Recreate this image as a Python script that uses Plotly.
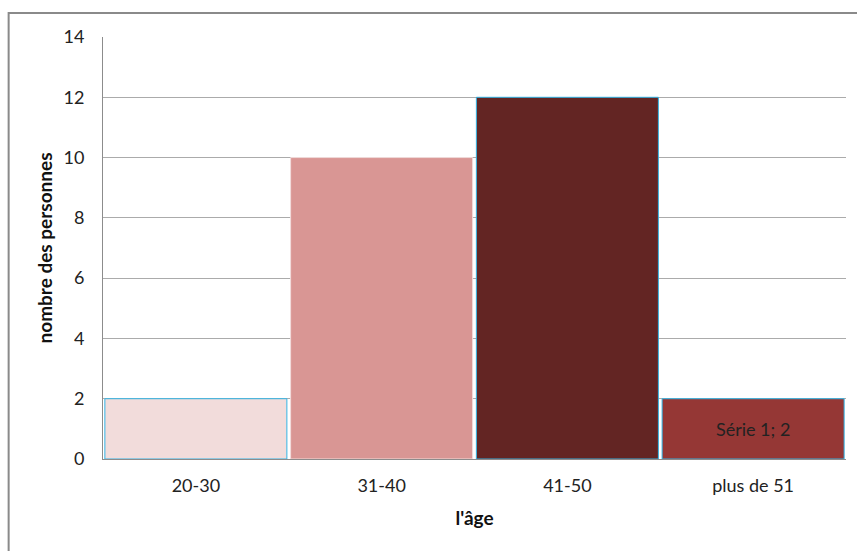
import plotly.graph_objects as go

# Age groups and head counts
categories = ["20-30", "31-40", "41-50", "plus de 51"]
counts = [2, 10, 12, 2]
bar_colors = ["#F2DCDB", "#D99694", "#632523", "#953735"]
edge_colors = ["#33B5E5", "#F2DCDB", "#33B5E5", "#33B5E5"]
data_labels = ["", "", "", "Série 1; 2"]

y_ticks = [0, 2, 4, 6, 8, 10, 12, 14]

FONT = "Lato, 'Open Sans', sans-serif"

fig = go.Figure(
    go.Bar(
        x=categories,
        y=counts,
        marker=dict(color=bar_colors, line=dict(color=edge_colors, width=1)),
        text=data_labels,
        textposition="inside",
        insidetextanchor="middle",
        textfont=dict(family=FONT, size=18, color="#222222"),
        cliponaxis=False,
        hoverinfo="x+y",
    )
)

fig.update_layout(
    width=857,
    height=551,
    margin=dict(l=103, r=11, t=37, b=92),
    paper_bgcolor="white",
    plot_bgcolor="white",
    bargap=0.02,
    showlegend=False,
    font=dict(family=FONT, size=18, color="#222222"),
    xaxis=dict(
        title=dict(text="<b>l'âge</b>", font=dict(size=19, color="#111111"), standoff=17),
        showline=True,
        linecolor="#8c8c8c",
        linewidth=1,
        ticks="",
        tickfont=dict(size=18),
        ticklabelstandoff=10,
        showgrid=False,
    ),
    yaxis=dict(
        title=dict(text="<b>nombre des personnes</b>", font=dict(size=19, color="#111111"), standoff=5),
        range=[0, 14],
        tickvals=y_ticks,
        ticktext=[str(v) for v in y_ticks],
        showline=True,
        linecolor="#8c8c8c",
        linewidth=1,
        showgrid=True,
        gridcolor="#ababab",
        gridwidth=1,
        ticks="",
        ticklen=0,
        tickfont=dict(size=18),
        ticklabelstandoff=14,
        zeroline=False,
    ),
    shapes=[
        dict(
            type="rect",
            xref="paper",
            yref="paper",
            x0=-0.127,
            x1=1.1,
            y0=-0.3,
            y1=1.057,
            line=dict(color="#8a8a8a", width=2),
            fillcolor="rgba(0,0,0,0)",
            layer="below",
        )
    ],
)

fig.write_html("out.html")
